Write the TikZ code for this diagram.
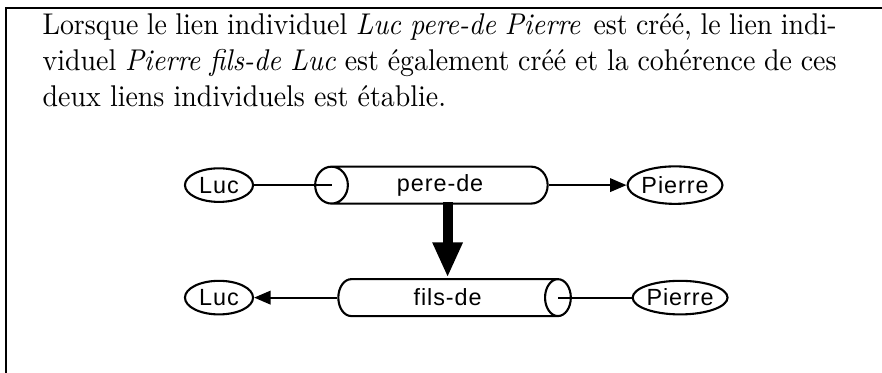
\documentclass[tikz,border=0pt]{standalone}
\usepackage{fontspec}
\usepackage{graphicx}
\newfontfamily\diagfont{Liberation Sans}[LetterSpace=4]
\usetikzlibrary{shapes.geometric,arrows.meta,calc}
\begin{document}
\begin{tikzpicture}[node distance=40pt]
      \tikzstyle{entity} = [ellipse, draw=black, line width=0.7pt, minimum width=22.7pt, minimum height=11.2pt, inner sep=0pt, font=\fontsize{7.8}{9}\diagfont]
      \tikzstyle{relation} = [cylinder, draw=black, line width=0.7pt, aspect=1.5, minimum width=12.3pt, minimum height=77.5pt, inner sep=0pt, font=\fontsize{7.8}{9}\diagfont]
      \tikzstyle{link} = [line width=0.7pt]
      \tikzstyle{arrow} = [line width=0.7pt,-{Triangle[width=4.5pt,length=5.5pt]}]
      \tikzstyle{bigarrow} = [line width=3.3pt,-{Triangle[width=9.3pt,length=11.7pt]}]

      \useasboundingbox (0,0) rectangle (294pt,-124.3pt);
      \draw [line width=0.6pt] (2pt,-124.3pt) |- (294pt,-2.7pt);
      \node (intro) [anchor=north west, inner sep=0pt] at (14pt,-4.2pt)
        {\scalebox{0.93}[1]{\parbox{284.6pt}{%
         \hbox to\hsize{Lorsque le lien individuel \textit{Luc pere-de Pierre}\, est créé, le lien indi-}
         \hbox to\hsize{viduel \textit{Pierre fils-de Luc} est également créé et la cohérence de ces}
         \hbox{deux liens individuels est établie.}}}};

      \node (luc-pere) [entity] at (73pt,-61.7pt) {Luc};
      \node (pere-de) [relation, shape border rotate=180, right of=luc-pere, xshift=33.7pt] {pere-de};
      \node (pierre-pere) [entity, minimum width=28pt, minimum height=12.5pt, right of=pere-de, xshift=38.3pt] {Pierre};
      \node (luc-fils) [entity, below of=luc-pere, node distance=37.5pt] {Luc};
      \node (fils-de) [relation, right of=luc-fils, xshift=36.2pt] {fils-de};
      \node (pierre-fils) [entity, minimum width=28.5pt, minimum height=11.2pt, right of=fils-de, xshift=37.5pt] {Pierre};

      \coordinate (pere-face) at ($(pere-de.before top)!0.5!(pere-de.after top)$);
      \coordinate (fils-face) at ($(fils-de.before top)!0.5!(fils-de.after top)$);

      \draw [link] (luc-pere) -- (pere-face);
      \draw [arrow] (pere-de) -- (pierre-pere);
      \draw [bigarrow, shorten <=5.7pt, shorten >=6.7pt] (pere-de.center -| fils-de.center) -- (fils-de.center);
      \draw [arrow] (fils-de) -- (luc-fils);
      \draw [link] (pierre-fils) -- (fils-face);
    \end{tikzpicture}
\end{document}
